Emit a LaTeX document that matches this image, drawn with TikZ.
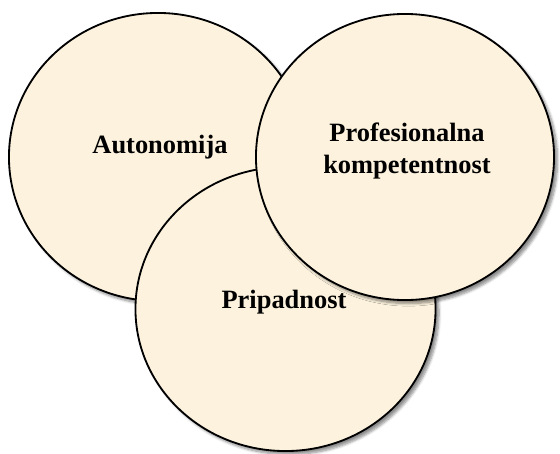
\documentclass[tikz,border=0pt]{standalone}
\usepackage{fontspec}
\setmainfont{Liberation Serif}
\usetikzlibrary{shapes.geometric,shadows.blur}
\definecolor{krem}{RGB}{252,242,222}
\tikzset{
  krug/.style={ellipse, draw=black, line width=1.3pt, fill=krem, inner sep=0pt, outer sep=0pt,
    minimum width=7.45cm, minimum height=7.2cm,
    blur shadow={shadow xshift=2.5pt, shadow yshift=-2.5pt, shadow blur steps=6, shadow opacity=45}},
  tekst/.style={font=\bfseries\fontsize{18.8}{22.2}\selectfont, align=center, inner sep=0pt}
}
\begin{document}
\begin{tikzpicture}[x=0.025cm,y=-0.025cm]
  \useasboundingbox (0,0) rectangle (560,454);
  \node[krug] (autonomija) at (158,157) {};
  \node[krug, minimum width=7.5cm, minimum height=7.1cm] (pripadnost) at (285.5,309) {};
  \node[krug, minimum height=7.15cm] (kompetentnost) at (405,157) {};
  \node[tekst, anchor=base] (autonomijatxt) at (160,153) {Autonomija};
  \node[tekst, anchor=base] (pripadnosttxt) at (284,308) {Pripadnost};
  \node[tekst] (kompetentnosttxt) at (407,151) {Profesionalna\\kompetentnost};
\end{tikzpicture}
\end{document}
